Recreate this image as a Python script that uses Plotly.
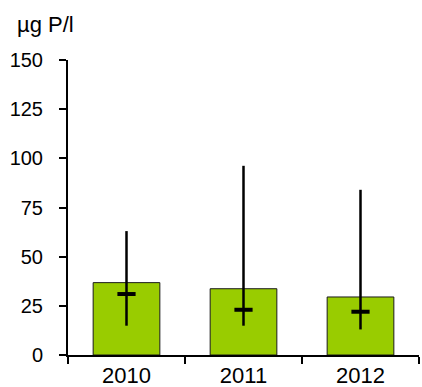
import plotly.graph_objects as go

years = ["2010", "2011", "2012"]
means = [36.8, 33.7, 29.5]
medians = [31.0, 23.0, 22.0]
lows = [14.9, 14.9, 13.0]
highs = [63.0, 96.2, 84.0]
y_ticks = [0, 25, 50, 75, 100, 125, 150]

FONT = "Liberation Sans, Arial, sans-serif"

fig = go.Figure()
fig.add_trace(go.Bar(
    x=years, y=means,
    marker=dict(color="#99CC00", line=dict(color="#1a1a1a", width=1)),
    showlegend=False,
))
fig.add_trace(go.Scatter(
    x=years, y=medians, mode="markers",
    marker=dict(symbol="line-ew", size=13, line=dict(color="black", width=4)),
    error_y=dict(type="data", symmetric=False,
                 array=[h - m for h, m in zip(highs, medians)],
                 arrayminus=[m - l for m, l in zip(medians, lows)],
                 color="black", thickness=2.5, width=0),
    showlegend=False,
))

fig.update_layout(
    width=422, height=387,
    margin=dict(l=68, r=3, t=60, b=32, autoexpand=False),
    paper_bgcolor="white", plot_bgcolor="white",
    bargap=0.43,
    font=dict(family=FONT, size=19.5, color="black"),
    xaxis=dict(type="category", showline=True, linecolor="black", linewidth=2,
               ticks="outside", ticklen=7, tickwidth=2, tickcolor="black",
               tickson="boundaries", showgrid=False, automargin=False,
               tickfont=dict(family=FONT, size=22)),
    yaxis=dict(range=[0, 150], tickvals=y_ticks, showline=True, linecolor="black",
               linewidth=2, ticks="outside", ticklen=7, tickwidth=2, tickcolor="black",
               showgrid=False, zeroline=False, automargin=False,
               ticklabelstandoff=12,
               tickfont=dict(family=FONT, size=20)),
    annotations=[dict(text="µg P/l", xref="paper", yref="paper",
                      x=-0.150, y=1.119, xanchor="left", yanchor="middle",
                      showarrow=False, font=dict(family=FONT, size=22))],
)

fig.write_html("out.html",
               config={"displayModeBar": False},
               post_script="document.body.style.margin='0';document.body.style.padding='0';")
